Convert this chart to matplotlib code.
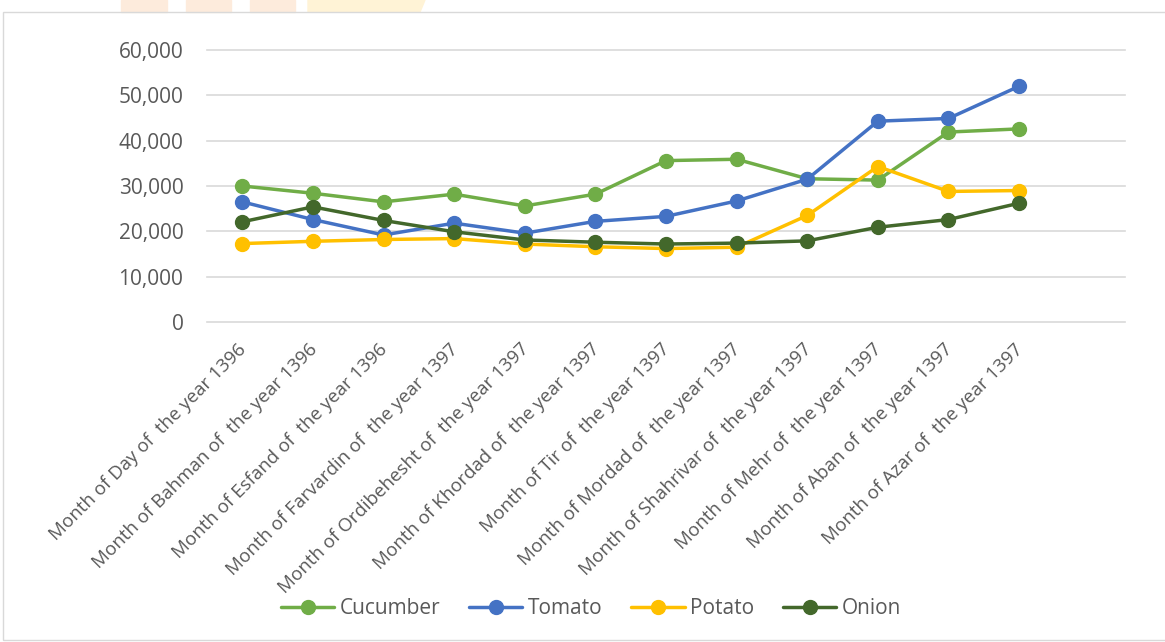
import matplotlib
matplotlib.use("Agg")
import matplotlib.pyplot as plt
from matplotlib.patches import Rectangle, Polygon
from matplotlib.ticker import FuncFormatter
from matplotlib.transforms import ScaledTranslation

categories = [
    "Month of Day of  the year 1396",
    "Month of Bahman of  the year 1396",
    "Month of Esfand of  the year 1396",
    "Month of Farvardin of  the year 1397",
    "Month of Ordibehesht of  the year 1397",
    "Month of Khordad of  the year 1397",
    "Month of Tir of  the year 1397",
    "Month of Mordad of  the year 1397",
    "Month of Shahrivar of  the year 1397",
    "Month of Mehr of  the year 1397",
    "Month of Aban of  the year 1397",
    "Month of Azar of  the year 1397",
]
cucumber = [30000, 28400, 26500, 28200, 25600, 28200, 35600, 35900, 31600, 31300, 41900, 42600]
tomato = [26500, 22600, 19200, 21800, 19600, 22200, 23300, 26700, 31500, 44300, 44900, 52000]
potato = [17300, 17800, 18200, 18400, 17200, 16600, 16200, 16500, 23500, 34300, 28800, 29000]
onion = [22100, 25400, 22400, 19900, 18100, 17600, 17200, 17400, 17900, 20900, 22600, 26200]

series = [("Cucumber", cucumber, "#70AD47"),
          ("Tomato", tomato, "#4472C4"),
          ("Potato", potato, "#FFC000"),
          ("Onion", onion, "#43682B")]

plt.rcParams['font.family'] = ['Open Sans', 'DejaVu Sans']
txt = "#595959"

fig = plt.figure(figsize=(11.65, 6.42), dpi=100)

# watermark strips at top
for x0, w, c in [(121, 46, "#FDEBDC"), (186, 45, "#FDEBDC"), (250, 45, "#FDEBDC")]:
    fig.patches.append(Rectangle((x0 / 1165, 1 - 12 / 642), w / 1165, 12 / 642,
                                 transform=fig.transFigure, color=c, zorder=0))
fig.patches.append(Polygon([(308 / 1165, 1), (425 / 1165, 1), (420 / 1165, 1 - 12 / 642), (308 / 1165, 1 - 12 / 642)],
                           closed=True, transform=fig.transFigure, color="#FFF3D6", zorder=0))
# chart border
fig.patches.append(Rectangle((3 / 1165, 2 / 642), 1.2, 1 - 14 / 642,
                             transform=fig.transFigure, fill=False, edgecolor="#D9D9D9", lw=1.0))

ax = fig.add_axes([207 / 1165, 1 - 322 / 642, (1125 - 207) / 1165, (322 - 50) / 642])
x = list(range(len(categories)))
for name, vals, col in series:
    ax.plot(x, vals, color=col, lw=2.5, marker="o", markersize=10, label=name,
            solid_capstyle="round", zorder=3)

ax.set_xlim(-0.5, len(categories) + 0.5)
ax.set_ylim(0, 60000)
ax.set_yticks(range(0, 60001, 10000))
ax.yaxis.set_major_formatter(FuncFormatter(lambda v, p: f"{int(v):,}"))
ax.set_xticks(x)
ax.set_xticklabels(categories, rotation=45, ha="right", rotation_mode="anchor")
ax.tick_params(axis="both", length=0, colors=txt)
ax.tick_params(axis="y", pad=17, labelsize=15)
ax.tick_params(axis="x", pad=13, labelsize=13.5)
off = ScaledTranslation(-5 / 100, 0, fig.dpi_scale_trans)
for lab in ax.get_xticklabels():
    lab.set_transform(lab.get_transform() + off)
ax.grid(axis="y", color="#D9D9D9", lw=1.2)
for gl in ax.yaxis.get_gridlines():
    gl.set_clip_on(False)
ax.set_axisbelow(True)
for s in ax.spines.values():
    s.set_visible(False)

leg = fig.legend(loc="center", bbox_to_anchor=(591 / 1165, 1 - 609 / 642), ncol=4,
                 frameon=False, fontsize=15, handlelength=2.55, columnspacing=1.4,
                 handletextpad=0.25, borderpad=0, borderaxespad=0)
for t in leg.get_texts():
    t.set_color(txt)

fig.savefig("out.png", dpi=100)
